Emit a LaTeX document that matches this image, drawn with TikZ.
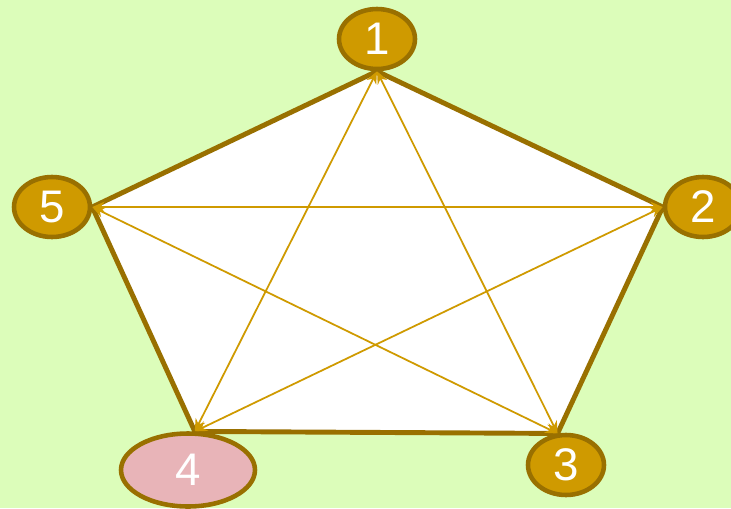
\documentclass[tikz,border=0pt]{standalone}
\usepackage{fontspec}
\setmainfont{Liberation Sans}
\usetikzlibrary{arrows.meta,backgrounds,shapes.geometric}
\definecolor{bggreen}{RGB}{220,253,186}
\definecolor{edgebrown}{RGB}{153,112,0}
\definecolor{gold}{RGB}{207,154,0}
\definecolor{pinknode}{RGB}{232,180,184}
\tikzset{
  vert/.style={ellipse, draw=edgebrown, line width=2.6pt, fill=gold, text=white,
    minimum width=1.52cm, minimum height=1.2cm, inner sep=0pt,
    font=\fontsize{26}{26}\selectfont},
  diag/.style={gold, line width=1pt, {Stealth[length=7pt,width=6pt]}-{Stealth[length=7pt,width=6pt]}}
}
\begin{document}
\begin{tikzpicture}[x=0.02cm, y=-0.02cm]
    \useasboundingbox (0,0) rectangle (731,508);
    \node[vert] (n1) at (377,39) {1};
    \node[vert] (n2) at (703,207) {2};
    \node[vert] (n3) at (566,465) {3};
    \node[vert, fill=pinknode, minimum width=2.68cm, minimum height=1.46cm] (n4) at (188,470) {4};
    \node[vert] (n5) at (52,207) {5};

    \begin{scope}[on background layer]
    \fill[bggreen] (0,0) rectangle (731,508);
    \draw[line width=2.8pt, edgebrown, fill=white, line join=round]
        (n1.south)--(n2.west)--(n3.105)--(n4.80)--(n5.east)--cycle;
    \draw[diag] (n1.south)--(n3.105);
    \draw[diag] (n1.south)--(n4.80);
    \draw[diag] (n2.west)--(n4.80);
    \draw[diag] (n2.west)--(n5.east);
    \draw[diag] (n5.east)--(n3.105);
    \end{scope}
\end{tikzpicture}
\end{document}
